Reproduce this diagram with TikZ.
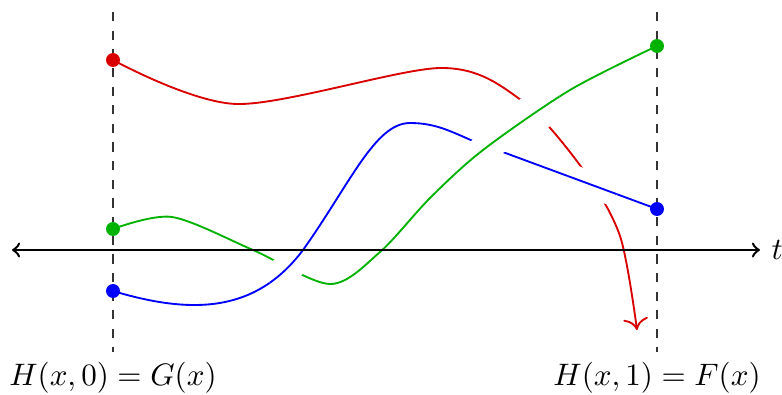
\documentclass[tikz,border=0pt]{standalone}
\usetikzlibrary{arrows.meta}
\begin{document}
\begin{tikzpicture}[x=0.322pt, y=0.322pt, >=to, semithick,
		dot/.style={circle, fill, inner sep=0pt, minimum size=4.5pt},
		gap/.style={white, line width=#1},
		redc/.style={red!85!black}, greenc/.style={green!70!black}, bluec/.style={blue},
		redpath/.style={insert path={plot[smooth] coordinates {(r0.center) (237,290) (440,326) (521,294) (582,226) (620,158) (rend)}}},
		bluepath/.style={insert path={(b0.center) .. controls (190,80) and (255,80) .. (303,144)
			.. controls (350,210) and (375,271) .. (410,271)
			.. controls (435,271) and (450,263) .. (473,253) -- (b1.center)}},
		greenpath/.style={insert path={plot[smooth] coordinates {(g0.center) (172,177) (253,144) (330,110) (380,142) (430,196) (483,244) (570,304) (g1.center)}}}]
	\useasboundingbox (0,0) rectangle (782,394);
	
	% 1. 两条竖直虚线
	\coordinate (Lt) at (113,382); \coordinate (Lb) at (113,42);
	\coordinate (Rt) at (657,382); \coordinate (Rb) at (657,42);
	\draw[dashed, thin, black!80] (Lt) -- (Lb);
	\draw[dashed, thin, black!80] (Rt) -- (Rb);
	
	% 2. 端点
	\node[dot, redc] (r0) at (113,334) {};
	\node[dot, greenc] (g0) at (113,165) {};
	\node[dot, bluec] (b0) at (113,103) {};
	\node[dot, greenc] (g1) at (657,348) {};
	\node[dot, bluec] (b1) at (657,185) {};
	\coordinate (rend) at (637,64);
	
	% 3. 三条曲线
	\draw[redc, -{To[scale=1.3]}, redpath];
	\draw[bluec, bluepath];
	\draw[greenc, greenpath];
	
	% 4. 交叉处断开 (上层曲线重画)
	\begin{scope}
		\clip (535,280) circle (30);
		\draw[gap=12.6pt, greenpath];
		\draw[greenc, greenpath];
	\end{scope}
	\begin{scope}
		\clip (592,208) circle (26);
		\draw[gap=8.4pt, bluepath];
		\draw[bluec, bluepath];
	\end{scope}
	\begin{scope}
		\clip (488,246) circle (24);
		\draw[gap=9.3pt, greenpath];
		\draw[greenc, greenpath];
	\end{scope}
	\begin{scope}
		\clip (290,124) circle (24);
		\draw[gap=9.7pt, bluepath];
		\draw[bluec, bluepath];
	\end{scope}
	
	% 5. 时间轴与标签
	\coordinate (tl) at (12,144); \coordinate (tr) at (760,144);
	\draw[<->, thick] (tl) -- (tr) node[right] (tlab) {$t$};
	\node (lab0) at (113,16) {$H(x,0) = G(x)$};
	\node (lab1) at (657,16) {$H(x,1) = F(x)$};
\end{tikzpicture}
\end{document}
